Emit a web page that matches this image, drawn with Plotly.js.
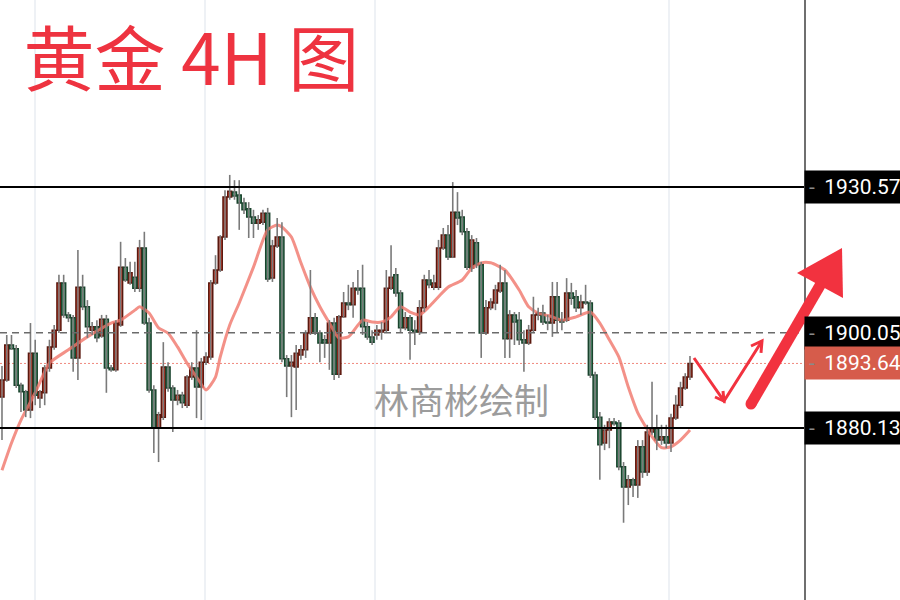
<!DOCTYPE html>
<html><head><meta charset="utf-8">
<script src="https://cdn.plot.ly/plotly-3.0.1.min.js"></script>
<style>html,body{margin:0;padding:0;background:#fff;}#chart{width:900px;height:600px;}</style>
</head><body><div id="chart"></div>
<script>
// ---- data (XAUUSD 4H) ----
const openP = [
1886.6,1890.2,1897.5,1896.7,1889.1,1887.7,1883.9,1895.8,1886.4,1887.5,
1892.7,1897.1,1900.6,1910.5,1903.8,1903.2,1894.8,1909.6,1905.5,1900.6,
1901.3,1899.4,1902.9,1892.7,1892.3,1901.7,1913.8,1910.5,1911.7,1909.4,
1917.8,1902.1,1888.1,1880.1,1882.4,1892.9,1888.5,1886.0,1887.0,1884.9,
1890.8,1892.7,1888.7,1893.9,1895.0,1910.5,1913.2,1920.1,1928.5,1929.5,
1928.9,1927.2,1926.0,1924.3,1923.0,1923.2,1925.1,1911.5,1918.2,1920.1,
1894.6,1893.1,1892.9,1895.4,1896.5,1900.0,1903.2,1900.0,1898.6,1897.9,
1902.1,1891.4,1903.4,1906.3,1905.9,1909.4,1909.4,1901.3,1899.2,1899.6,
1900.2,1900.6,1909.4,1912.2,1908.4,1901.1,1903.2,1900.6,1900.2,1905.3,
1911.1,1909.6,1909.6,1917.8,1920.5,1915.9,1925.3,1924.3,1921.2,1913.6,
1918.9,1914.3,1900.0,1905.3,1906.3,1908.8,1910.5,1898.8,1903.8,1902.7,
1898.6,1897.9,1900.6,1903.8,1904.2,1902.3,1902.1,1907.6,1902.7,1902.7,
1908.4,1907.6,1905.3,1906.5,1906.3,1891.2,1882.4,1877.0,1879.7,1881.4,
1881.2,1872.0,1867.8,1869.3,1868.2,1876.2,1870.9,1879.3,1879.9,1877.6,
1878.3,1877.0,1882.2,1884.9,1888.5,1890.8];
const highP = [
1893.1,1899.6,1899.6,1897.5,1889.6,1888.1,1902.1,1898.6,1888.1,1893.3,
1898.6,1901.7,1912.2,1912.2,1904.4,1903.8,1917.4,1912.2,1906.9,1902.3,
1902.7,1903.8,1903.8,1893.3,1902.7,1919.1,1915.7,1914.9,1914.9,1919.5,
1921.2,1903.2,1889.1,1883.5,1898.1,1893.9,1889.1,1888.1,1887.7,1891.2,
1893.9,1900.6,1894.8,1896.0,1911.1,1916.3,1920.5,1929.9,1933.1,1932.0,
1932.0,1928.3,1927.4,1925.8,1924.7,1925.8,1926.2,1919.5,1924.1,1923.2,
1895.4,1895.4,1897.5,1897.5,1900.6,1913.2,1904.2,1900.6,1899.6,1902.7,
1903.2,1903.8,1908.6,1910.1,1910.7,1913.2,1914.3,1902.3,1900.6,1901.7,
1902.3,1913.2,1918.4,1913.6,1909.0,1904.4,1903.8,1902.7,1906.9,1912.2,
1913.2,1912.2,1919.5,1922.0,1922.6,1931.6,1929.5,1925.8,1922.0,1920.5,
1919.9,1914.9,1906.9,1907.3,1910.1,1914.3,1913.2,1904.8,1904.4,1904.4,
1900.6,1901.7,1907.6,1905.3,1905.9,1903.8,1910.7,1910.7,1904.4,1911.5,
1910.5,1909.0,1908.0,1910.1,1906.9,1891.9,1883.5,1880.8,1882.2,1882.2,
1881.8,1873.0,1870.3,1869.7,1877.6,1877.6,1880.8,1889.8,1882.9,1880.8,
1880.8,1883.1,1887.0,1889.8,1891.6,1895.2];
const lowP = [
1877.6,1889.8,1896.5,1888.5,1883.5,1882.4,1882.2,1884.9,1884.3,1884.9,
1891.9,1896.5,1900.0,1903.2,1902.3,1891.9,1890.2,1904.8,1899.0,1899.6,
1898.1,1899.0,1887.5,1891.9,1891.9,1901.3,1910.7,1910.1,1908.6,1908.6,
1901.7,1887.5,1874.9,1873.0,1881.8,1887.7,1879.3,1884.9,1884.3,1884.3,
1890.2,1882.2,1881.8,1893.3,1894.4,1910.1,1912.8,1919.5,1927.9,1927.9,
1921.6,1924.9,1919.9,1919.9,1921.6,1922.6,1910.7,1910.7,1917.8,1893.9,
1886.6,1882.4,1883.9,1894.4,1894.8,1899.6,1899.6,1893.9,1894.8,1892.3,
1890.2,1890.6,1903.2,1904.8,1903.2,1908.0,1899.6,1898.6,1897.5,1898.6,
1898.6,1900.2,1909.0,1907.6,1900.2,1900.6,1894.4,1897.5,1899.6,1904.4,
1909.4,1909.0,1909.0,1917.4,1915.3,1915.7,1922.6,1920.5,1913.2,1912.8,
1913.6,1894.8,1899.6,1904.8,1904.8,1908.4,1894.8,1894.8,1897.5,1897.5,
1891.9,1897.5,1900.0,1902.7,1901.7,1900.6,1899.2,1900.2,1900.6,1902.3,
1905.9,1904.4,1903.8,1905.9,1890.6,1881.8,1869.3,1875.5,1875.9,1880.6,
1871.3,1860.3,1864.0,1865.7,1865.5,1869.7,1870.1,1878.7,1875.5,1876.6,
1875.9,1875.1,1881.8,1884.3,1888.1,1890.2];
const closeP = [
1890.2,1897.5,1896.7,1889.1,1887.7,1883.9,1895.8,1887.0,1887.7,1892.7,
1897.1,1900.6,1910.5,1903.8,1903.2,1894.8,1909.6,1905.5,1901.3,1901.3,
1899.0,1902.9,1892.7,1892.3,1902.1,1913.8,1911.1,1912.6,1909.4,1917.8,
1902.1,1888.1,1880.1,1882.9,1892.9,1888.5,1886.0,1887.0,1885.4,1890.8,
1892.7,1888.7,1893.9,1895.0,1910.5,1913.2,1920.1,1928.5,1929.7,1928.7,
1927.2,1925.8,1924.3,1923.0,1923.7,1925.1,1911.3,1918.2,1920.1,1894.6,
1893.1,1893.9,1895.8,1896.5,1900.0,1903.2,1900.0,1897.9,1897.9,1902.1,
1891.4,1903.4,1906.3,1905.9,1909.4,1909.0,1901.3,1899.2,1898.1,1900.6,
1900.6,1909.4,1911.7,1908.4,1901.1,1903.2,1900.6,1900.2,1905.3,1911.1,
1910.1,1910.5,1917.8,1920.5,1915.9,1925.3,1924.1,1921.2,1913.8,1919.5,
1914.3,1900.0,1905.3,1906.5,1909.0,1910.5,1898.8,1903.8,1902.3,1898.6,
1897.9,1900.6,1903.8,1904.2,1902.3,1902.1,1907.6,1902.7,1902.3,1908.4,
1907.3,1905.3,1906.5,1906.3,1891.2,1882.4,1876.6,1879.7,1881.4,1881.0,
1872.0,1867.8,1869.3,1868.2,1876.2,1870.9,1879.3,1879.9,1877.6,1878.3,
1877.0,1882.2,1884.9,1888.5,1890.8,1893.64];
// moving average line (read at these candle indices)
const maIdx = [0,2,4,7,10,14,18,23,25,28,29,31,33,35,37,39,41,43,45,46,48,50,53,56,58,59,61,63,65,67,69,71,73,76,78,80,82,84,86,88,90,92,94,97,99,101,103,106,109,111,113,116,118,121,124,126,128,130,132,134,137,139,141,143,145];
const maVal = [1871.3,1877.0,1881.8,1887.5,1893.7,1896.5,1899.2,1902.1,1902.7,1904.8,1905.5,1904.2,1901.1,1900.0,1897.1,1893.7,1890.8,1888.1,1890.8,1895.0,1901.7,1906.3,1913.8,1921.6,1922.6,1922.2,1920.1,1914.7,1909.6,1905.5,1902.1,1899.0,1899.2,1902.7,1902.3,1902.3,1903.4,1905.5,1904.4,1903.8,1905.5,1907.6,1909.6,1911.1,1913.6,1914.7,1914.7,1913.2,1909.0,1905.5,1904.2,1903.4,1902.7,1903.4,1904.4,1902.1,1898.6,1895.0,1888.7,1883.3,1878.3,1876.0,1876.2,1877.6,1879.7];
// price levels and their axis labels
const levelValues = [1930.57, 1880.13, 1900.05, 1893.64];
const levelLabels = ['1930.57', '1880.13', '1900.05', '1893.64'];
const titleText = '黄金 4H 图';
const watermark = '林商彬绘制';

// ---- build traces ----
const idx = openP.map((_, i) => i);
const wx = [], wy = [];
idx.forEach(i => { wx.push(i, i, null); wy.push(lowP[i], highP[i], null); });
const up = idx.filter(i => closeP[i] >= openP[i]);
const dn = idx.filter(i => closeP[i] < openP[i]);

const traces = [
  {type:'scatter', mode:'lines', x:maIdx, y:maVal, line:{color:'rgba(240,118,106,0.8)', width:3, shape:'spline', smoothing:0.6}, hoverinfo:'skip'},
  {type:'scatter', mode:'lines', x:wx, y:wy, line:{color:'#7a7a7a', width:1.6}, hoverinfo:'skip', connectgaps:false},
  {type:'bar', x:up, base:up.map(i => openP[i]), y:up.map(i => closeP[i] - openP[i]), width:0.84,
   marker:{color:'#d4432f', line:{color:'#5a180e', width:1.5}}, hoverinfo:'skip'},
  {type:'bar', x:dn, base:dn.map(i => closeP[i]), y:dn.map(i => openP[i] - closeP[i]), width:0.84,
   marker:{color:'#4b9a70', line:{color:'#1a432d', width:1.5}}, hoverinfo:'skip'}
];

// helpers to place hand-drawn decorations (pixel -> paper)
const PW = 804, PH = 600;
const px = x => x / PW, py = y => 1 - y / PH;
const P = (x, y) => px(x).toFixed(5) + ' ' + py(y).toFixed(5);
const red = '#f2323f';

const shapes = [
  {type:'line', xref:'paper', x0:0, x1:1, yref:'y', y0:levelValues[0], y1:levelValues[0], line:{color:'#000', width:2}, layer:'above'},
  {type:'line', xref:'paper', x0:0, x1:1, yref:'y', y0:levelValues[1], y1:levelValues[1], line:{color:'#000', width:2}, layer:'above'},
  {type:'line', xref:'paper', x0:0, x1:1, yref:'y', y0:levelValues[2], y1:levelValues[2], line:{color:'#6b6b6b', width:1.5, dash:'7px,5px'}, layer:'above'},
  {type:'line', xref:'paper', x0:0, x1:1, yref:'y', y0:levelValues[3], y1:levelValues[3], line:{color:'#f0897e', width:1, dash:'2px,2px'}, layer:'below'},
  // thin hand-drawn zigzag arrow
  {type:'path', xref:'paper', yref:'paper', path:'M ' + P(694,358) + ' L ' + P(724,401) + ' L ' + P(762,341), line:{color:red, width:3}},
  {type:'path', xref:'paper', yref:'paper', path:'M ' + P(715,397) + ' L ' + P(724,401) + ' L ' + P(723,391), line:{color:red, width:3}},
  {type:'path', xref:'paper', yref:'paper', path:'M ' + P(751,346) + ' L ' + P(762,341) + ' L ' + P(761,353), line:{color:red, width:3}},
  // thick arrow
  {type:'path', xref:'paper', yref:'paper', path:'M ' + P(751,404) + ' L ' + P(822,282), line:{color:red, width:11}},
  {type:'circle', xref:'paper', yref:'paper', x0:px(745.5), x1:px(756.5), y0:py(409.5), y1:py(398.5), fillcolor:red, line:{width:0}},
  {type:'path', xref:'paper', yref:'paper', path:'M ' + P(842,248) + ' L ' + P(797,273) + ' L ' + P(843,298) + ' Z', fillcolor:red, line:{width:0}}
];

const labelBg = ['#000000', '#000000', '#000000', '#d65c4b'];
const annotations = levelValues.map((v, k) => ({
  xref:'paper', x:1, xanchor:'left', yref:'y', y:v, yanchor:'middle', showarrow:false,
  text:'<span style="color:#8a8a8a">-</span>\u00a0\u2009' + levelLabels[k],
  bgcolor:labelBg[k], borderpad:4, align:'left',
  font:{family:'Roboto, "DejaVu Sans", sans-serif', size:21, color:'#ffffff'}
}));
annotations.push({
  xref:'paper', yref:'paper', x:px(461), y:py(398), xanchor:'center', yanchor:'middle', showarrow:false,
  text:watermark, font:{family:'"Noto Sans CJK SC", sans-serif', size:35, color:'#9c9c9c'}
});

const layout = {
  width:900, height:600, margin:{l:0, r:96, t:0, b:0},
  paper_bgcolor:'#ffffff', plot_bgcolor:'#ffffff', showlegend:false, hovermode:false,
  barmode:'overlay', bargap:0,
  title:{text:titleText, xref:'container', yref:'container', x:0.026, xanchor:'left', y:0.9, yanchor:'middle',
         font:{family:'"Noto Sans CJK SC", sans-serif', size:71, color:'#ee3340'}},
  xaxis:{range:[-0.42, 169.03], showgrid:true, gridcolor:'#eef1f5', gridwidth:1.5, tickvals:[7, 42.8, 78.6, 140.6],
         showticklabels:false, ticks:'', zeroline:false, showline:false, fixedrange:true},
  yaxis:{range:[1844.13, 1969.71], side:'right', showgrid:false, showline:true, linecolor:'#6f6f6f', linewidth:1.5,
         showticklabels:false, ticks:'', zeroline:false, fixedrange:true},
  shapes:shapes, annotations:annotations
};

Plotly.newPlot('chart', traces, layout, {staticPlot:true, displayModeBar:false});
</script>
</body></html>
